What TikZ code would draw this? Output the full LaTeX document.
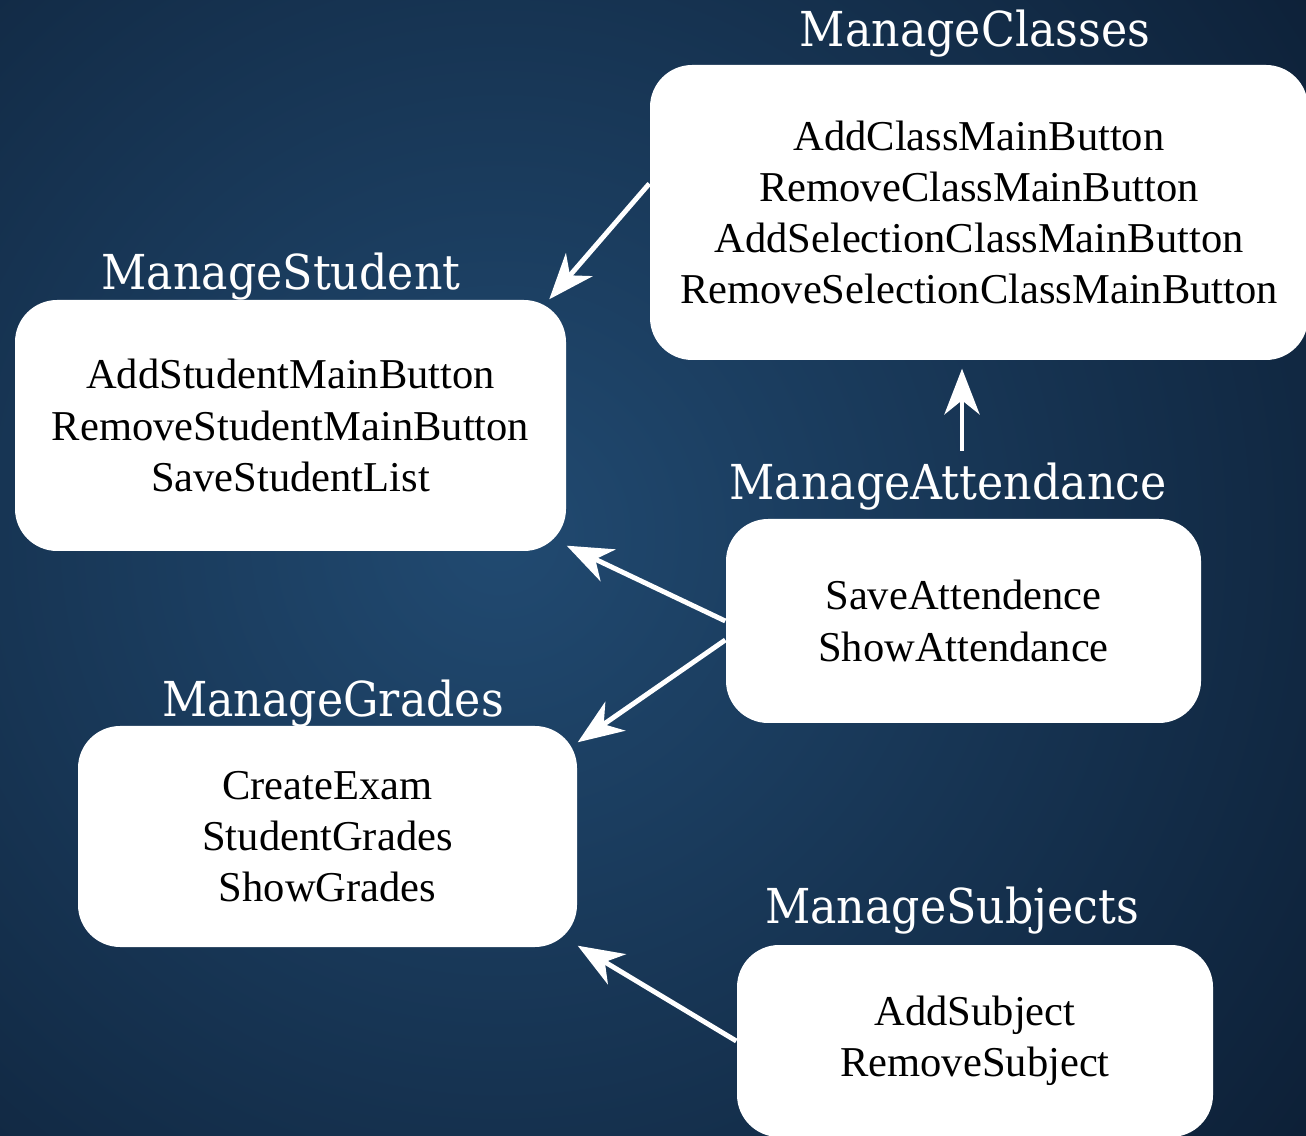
\documentclass[tikz,border=0pt]{standalone}
\usepackage{fontspec}
\setmainfont{Liberation Serif}
\newfontfamily\titlefont[FakeStretch=0.92]{DejaVu Serif}
\usetikzlibrary{arrows.meta}
\usetikzlibrary{calc}
\usetikzlibrary{positioning}

\begin{document}
\begin{tikzpicture}[
	>={Stealth[length=13pt,width=10pt,inset=4pt]},
	module/.style={draw=none, fill=white, rounded corners=12pt, align=center,
		font=\fontsize{12.1}{14.6}\selectfont, inner sep=0pt},
	moduletitle/.style={text=white, anchor=base, font=\titlefont\fontsize{13.7}{16}\selectfont},
	link/.style={->, draw=white, line width=1.4pt}
	]
	\definecolor{BackLight}{RGB}{33,74,113}
	\definecolor{BackDark}{RGB}{13,32,55}
	%%%%%%%%%%%%%%%%%%%%%%%%%%%%%%%%%%%%%%%%%%%%%%%%%%%%%%%%%%
	% background
	\useasboundingbox (0,0) rectangle (13.06,11.35);
	\begin{scope}
		\clip (0,0) rectangle (13.06,11.35);
		\shade[inner color=BackLight, outer color=BackDark] (-5,-4) rectangle (15,16);
	\end{scope}
	%%%%%%%%%%%%%%%%%%%%%%%%%%%%%%%%%%%%%%%%%%%%%%%%%%%%%%%%%%
	% boxes
	\node[module, minimum width=6.58cm, minimum height=2.95cm] (classes) at (9.79,9.225)
		{AddClassMainButton\\RemoveClassMainButton\\AddSelectionClassMainButton\\RemoveSelectionClassMainButton};
	\node[module, minimum width=5.51cm, minimum height=2.51cm] (student) at (2.905,7.095)
		{AddStudentMainButton\\RemoveStudentMainButton\\SaveStudentList};
	\node[module, minimum width=4.75cm, minimum height=2.04cm] (attendance) at (9.635,5.14)
		{SaveAttendence\\ShowAttendance};
	\node[module, minimum width=4.99cm, minimum height=2.21cm] (grades) at (3.275,2.985)
		{CreateExam\\StudentGrades\\ShowGrades};
	\node[module, minimum width=4.76cm, minimum height=1.92cm] (subjects) at (9.75,0.94)
		{AddSubject\\RemoveSubject};
	
	% titles
	\node[moduletitle] (classestitle) at (9.75,10.88) {ManageClasses};
	\node[moduletitle] (studenttitle) at (2.81,8.45) {ManageStudent};
	\node[moduletitle] (attendancetitle) at (9.48,6.35) {ManageAttendance};
	\node[moduletitle] (gradestitle) at (3.33,4.18) {ManageGrades};
	\node[moduletitle] (subjectstitle) at (9.52,2.12) {ManageSubjects};
	
	% arrows
	\draw[link] (classes.175) -- (student.26);
	\draw[link] ([xshift=0.14cm]attendancetitle.north) -- ([xshift=0.14cm,yshift=-0.08cm]attendancetitle.north |- classes.south);
	\draw[link] (attendance.west) -- ([yshift=0.06cm]student.south east);
	\draw[link] ([yshift=-0.19cm]attendance.west) -- ([yshift=-0.17cm]grades.north east);
	\draw[link] (subjects.west) -- ([yshift=0.02cm]grades.south east);
	
\end{tikzpicture}
\end{document}
